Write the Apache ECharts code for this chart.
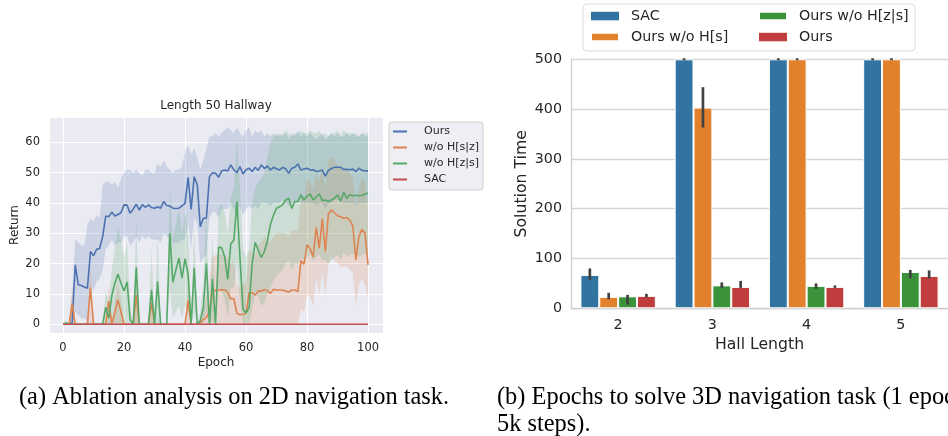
<!DOCTYPE html>
<html><head><meta charset="utf-8">
<script src="https://cdn.jsdelivr.net/npm/echarts@6/dist/echarts.min.js"></script>
<style>html,body{margin:0;padding:0;background:#fff}#c{width:948px;height:436px}</style>
</head><body><div id="c"></div>
<script>
// ---------- Left: Length 50 Hallway (epochs 0..100) ----------
const oursMean = [0,0,0,0.5,19.6,13,12.8,12.3,11.9,24,
 22.6,24.7,25,28.9,35.7,35.5,37,35.7,36.2,36.8,
 39.4,39.3,36.6,38,39.6,37.7,39.5,38.6,39.4,38.5,
 38.3,38.8,38.3,40.5,39.2,39,38.3,38.2,38.3,39.1,
 39.9,48.5,37.9,48.7,46,32.2,35,35,48.7,50,
 49.8,48.5,50.6,50.9,50.6,52.6,51,50,52,49.6,
 51,51.5,50.4,51.8,50.8,52.6,51.4,52.2,50.9,51.8,
 51.3,50.9,51.8,51.3,49.8,51.5,51.8,52.9,50.9,51.2,
 51.5,50.9,51,50.4,50.6,50.9,48.9,50.8,51.4,51.8,
 51.8,51.8,51.1,51.1,51,51.2,50.4,51.5,50.8,50.6,
 50.6];
const oursHi = [0,0,0,10,28,27,26,26,33,35,
 34,36,35,46,47,47,46,47,45,48,
 50,51,51,50,51,50,49,51,51,50,
 50,53,52,54,52,51,50,51,51,52,
 57,59,56,58,55,51,54,58,62,62,
 63,62,63,64,65,64,63,65,63,62,
 64,65,62,64,63,64,62,63,62,63,
 62,63,62,63,61,63,62,64,62,63,
 62,63,62,61,62,63,61,62,63,62,
 63,62,62,63,62,63,62,62,63,62,
 62];
const oursLo = [0,0,0,0,4,3,2,2,1,13,
 11,14,15,18,25,26,28,26,27,27,
 29,29,26,27,29,27,29,28,29,28,
 28,28,27,30,29,28,27,27,27,28,
 28,34,25,35,33,20,22,23,35,37,
 37,35,38,38,38,40,38,37,39,36,
 38,39,38,39,38,40,40,40,39,40,
 40,40,41,40,39,40,40,41,40,40,
 40,40,40,39,40,40,38,40,40,41,
 41,41,40,40,40,40,39,40,40,40,
 40];
const woHszMean = [0,0,0,6.8,0,0,0,0,0,12.2,
 0,0,0,0,0,7.6,0,4,8,4,
 0,0,0,0,9.5,0,0,0,0,7.1,
 0,0,0,0,0,0,0,0,0,0,
 0,7.8,0,0,0,0.5,1.5,2.2,4.3,10.2,
 11.3,11.3,11.4,11.3,10.5,8.3,8.5,3.6,3.1,3.3,
 3.6,10.4,10.4,9.6,11,10.9,11.5,11,10.2,11.5,
 11.3,11.3,11.2,11,10.6,11.3,11.3,10.8,21,19.8,
 26.2,25,22.2,32,25,34.8,24,36.5,37.7,36.8,
 35.8,35.5,35,35.2,34.4,32.5,21.2,28.9,31.3,30,
 19.6];
const woHszHi = [0,0,0,13,0,0,0,0,0,19,
 0,0,0,0,0,13,0,8,14,8,
 0,0,0,0,17,0,0,0,0,13,
 0,0,0,0,0,0,0,0,0,0,
 0,14,0,0,0,2,5,9,15,22,
 23,23,23,23,22,20,21,13,12,13,
 14,24,24,23,26,27,29,28,27,29,
 30,30,30,30,29,31,31,31,42,41,
 48,47,44,50,47,52,45,54,55,54,
 52,52,51,51,50,48,38,45,48,47,
 38];
const woHszLo = [0,0,0,0,0,0,0,0,0,0,
 0,0,0,0,0,0,0,0,0,0,
 0,0,0,0,0,0,0,0,0,0,
 0,0,0,0,0,0,0,0,0,0,
 0,0,0,0,0,0,0,0,0,0,
 0,0,0,0,0,0,0,0,0,0,
 0,0,0,0,0,0,0,0,0,0,
 0,0,0,0,0,0,0,0,5,4,
 10,9,6,15,10,18,9,20,22,21,
 20,19,19,19,18,17,6,13,15,13,
 8];
const woHzsMean = [0,0.4,0,0,0,0,0,0,0,0,
 0,0,0,0,5.6,2,9.5,13.5,16.5,13.5,
 11,14,1.5,0,18.8,0,0,0,0,11.3,
 0,14.2,0,0,0,30,13.8,17.9,21.8,15.2,
 21.6,16.5,0,18.6,0,1.2,5.5,20.1,0,15,
 0,25.5,25.2,22.2,14.8,26.5,27.8,40.5,22,5,
 3.7,5.5,20,27,24.5,22,24,27.5,33,36,
 38.3,38.8,39.4,41,41.6,38.2,40.5,40.5,42.7,41,
 42.2,43,41,42,43,40.8,41,40.5,41,41.6,
 42.7,40.5,43.5,41.5,42.7,42.4,42.6,42.4,42.6,43,
 43.3];
const woHzsHi = [0,1.5,0,0,0,0,0,0,0,0,
 0,0,0,0,11,7,18,25,32,28,
 22,27,6,0,35,0,0,0,0,25,
 0,29,0,0,0,45,28,33,38,30,
 37,32,0,33,0,4,14,38,0,30,
 2,38,40,37,30,42,45,61,45,25,
 22,25,40,45,47,48,50,55,60,62,
 63,62,63,64,63,62,63,63,64,63,
 63,64,63,63,64,62,63,62,63,63,
 64,62,64,63,63,63,63,62,63,63,
 63];
const woHzsLo = [0,0,0,0,0,0,0,0,0,0,
 0,0,0,0,0,0,0,0,0,0,
 0,0,0,0,0,0,0,0,0,0,
 0,0,0,0,0,12,2,4,6,2,
 6,3,0,4,0,0,0,4,0,1,
 0,12,11,8,2,12,12,20,8,0,
 0,0,5,10,9,6,7,10,12,14,
 16,17,18,20,21,18,20,20,22,21,
 22,23,21,22,23,21,21,20,21,22,
 23,21,24,22,23,23,23,22,23,23,
 24];
const sacMean = [0,0,0,0,0,0,0,0,0,0,
 0,0,0,0,0,0,0,0,0,0,
 0,0,0,0,0,0,0,0,0,0,
 0,0,0,0,0,0,0,0,0,0,
 0,0,0,0,0,0,0,0,0,0,
 0,0,0,0,0,0,0,0,0,0,
 0,0,0,0,0,0,0,0,0,0,
 0,0,0,0,0,0,0,0,0,0,
 0,0,0,0,0,0,0,0,0,0,
 0,0,0,0,0,0,0,0,0,0,
 0];
const lineNames = ['Ours', 'w/o H[s|z]', 'w/o H[z|s]', 'SAC'];
const lineColors = ['#4C72B0', '#DD8452', '#55A868', '#C44E52'];

// ---------- Right: Solution time ----------
const halls = ['2', '3', '4', '5'];
const barNames = ['SAC', 'Ours w/o H[s]', 'Ours w/o H[z|s]', 'Ours'];
const barColors = ['#3274A1', '#E1812C', '#3A923A', '#C03D3E'];
const sacTime = [67, 500, 500, 500];
const sacTimeLo = [57, 498, 498, 498];
const sacTimeHi = [80, 502, 502, 502];
const woHsTime = [23, 403, 500, 500];
const woHsTimeLo = [18, 363, 498, 498];
const woHsTimeHi = [31, 444, 502, 502];
const woHzsTime = [24, 46, 45, 73];
const woHzsTimeLo = [7, 41, 39, 60];
const woHzsTimeHi = [27, 52, 50, 77];
const oursTime = [25, 43, 43, 65];
const oursTimeLo = [22, 41, 41, 60];
const oursTimeHi = [29, 55, 46, 76];

const FONT = 'DejaVu Sans';
const TXT = '#262626';

function pairs(arr) { return arr.map((v, i) => [i, v]); }
function band(lo, hi, color) {
  return {
    type: 'custom', xAxisIndex: 0, yAxisIndex: 0, silent: true, z: 1,
    data: [[0, 0]],
    renderItem: function (params, api) {
      const pts = [];
      for (let i = 0; i < hi.length; i++) pts.push(api.coord([i, hi[i]]));
      for (let i = lo.length - 1; i >= 0; i--) pts.push(api.coord([i, lo[i]]));
      return { type: 'polygon', shape: { points: pts }, style: { fill: color, opacity: 0.2 } };
    }
  };
}
function lineSeries(name, data, color, z) {
  return {
    type: 'line', name: name, xAxisIndex: 0, yAxisIndex: 0, data: pairs(data),
    showSymbol: false, symbol: 'none', z: z, silent: true,
    lineStyle: { color: color, width: 1.6 }, itemStyle: { color: color }
  };
}
function barSeries(name, data, color) {
  return {
    type: 'bar', name: name, xAxisIndex: 1, yAxisIndex: 1, data: data,
    barWidth: '20%', barGap: '0%', silent: true, z: 2,
    itemStyle: { color: color, borderColor: '#ffffff', borderWidth: 1 }
  };
}
function errSeries(lo, hi, k) {
  return {
    type: 'custom', xAxisIndex: 1, yAxisIndex: 1, z: 5, silent: true, clip: false,
    data: halls.map((h, i) => [i, lo[i], hi[i]]),
    encode: { x: 0, y: [1, 2] },
    renderItem: function (params, api) {
      const i = api.value(0);
      const w = api.size([1, 0])[0];
      const a = api.coord([i, api.value(1)]);
      const b = api.coord([i, api.value(2)]);
      const off = (k - 1.5) * w * 0.2;
      return { type: 'line', shape: { x1: a[0] + off, y1: a[1], x2: b[0] + off, y2: b[1] },
        style: { stroke: '#424242', lineWidth: 2.7 } };
    }
  };
}

const chart = echarts.init(document.getElementById('c'), null, { renderer: 'canvas' });
const option = {
  animation: false,
  backgroundColor: '#ffffff',
  textStyle: { fontFamily: FONT },
  grid: [
    { left: 49, top: 117, width: 334, height: 216, show: true, backgroundColor: '#EAEAF2', borderWidth: 0 },
    { left: 571, top: 59.3, width: 380, height: 249, show: false }
  ],
  xAxis: [
    { type: 'value', gridIndex: 0, min: -4.6, max: 104.9, splitNumber: 5,
      axisLine: { show: false }, axisTick: { show: false },
      splitLine: { show: true, lineStyle: { color: '#ffffff', width: 1 } },
      axisLabel: { color: TXT, fontSize: 11.5, fontFamily: FONT, margin: 9,
        formatter: v => (Math.abs(v % 20) < 1e-6 ? String(v) : '') },
      name: 'Epoch', nameLocation: 'middle', nameGap: 24,
      nameTextStyle: { color: TXT, fontSize: 12, fontFamily: FONT } },
    { type: 'category', gridIndex: 1, data: halls,
      axisLine: { show: true, lineStyle: { color: '#CCCCCC', width: 1.25 } },
      axisTick: { show: false }, splitLine: { show: false },
      axisLabel: { color: TXT, fontSize: 14.3, fontFamily: FONT, margin: 10 },
      name: 'Hall Length', nameLocation: 'middle', nameGap: 25.5,
      nameTextStyle: { color: TXT, fontSize: 15.7, fontFamily: FONT } }
  ],
  yAxis: [
    { type: 'value', gridIndex: 0, min: -2.9, max: 68.4, splitNumber: 5,
      axisLine: { show: false }, axisTick: { show: false },
      splitLine: { show: true, lineStyle: { color: '#ffffff', width: 1 } },
      axisLabel: { color: TXT, fontSize: 11.5, fontFamily: FONT, margin: 9,
        formatter: v => (Math.abs(v % 10) < 1e-6 ? String(v) : '') },
      name: 'Return', nameLocation: 'middle', nameRotate: 90, nameGap: 28,
      nameTextStyle: { color: TXT, fontSize: 12, fontFamily: FONT } },
    { type: 'value', gridIndex: 1, min: 0, max: 500, interval: 100,
      axisLine: { show: true, lineStyle: { color: '#CCCCCC', width: 1.25 } },
      axisTick: { show: false },
      splitLine: { show: true, lineStyle: { color: '#D6D6D6', width: 1.3 } },
      axisLabel: { color: TXT, fontSize: 14.3, fontFamily: FONT, margin: 9 },
      name: 'Solution Time', nameLocation: 'middle', nameRotate: 90, nameGap: 41.5,
      nameTextStyle: { color: TXT, fontSize: 15.7, fontFamily: FONT } }
  ],
  legend: [
    { orient: 'vertical', left: 393, top: 126, padding: 0, icon: 'rect', itemWidth: 14, itemHeight: 2,
      itemGap: 5, selectedMode: false,
      textStyle: { color: TXT, fontSize: 11, fontFamily: FONT, lineHeight: 11, padding: [0, 0, 0, 12] },
      data: lineNames.map((n, i) => ({ name: n, itemStyle: { color: lineColors[i] } })) },
    { orient: 'vertical', left: 590, top: 8.9, padding: 0, icon: 'rect', itemWidth: 28, itemHeight: 8.5,
      itemGap: 6.7, selectedMode: false,
      textStyle: { color: TXT, fontSize: 14.3, fontFamily: FONT, lineHeight: 14.3, padding: [0, 0, 0, 7] },
      data: [0, 1].map(i => ({ name: barNames[i], itemStyle: { color: barColors[i] } })) },
    { orient: 'vertical', left: 758, top: 8.9, padding: 0, icon: 'rect', itemWidth: 28, itemHeight: 8.5,
      itemGap: 6.7, selectedMode: false,
      textStyle: { color: TXT, fontSize: 14.3, fontFamily: FONT, lineHeight: 14.3, padding: [0, 0, 0, 7] },
      data: [2, 3].map(i => ({ name: barNames[i], itemStyle: { color: barColors[i] } })) }
  ],
  graphic: [
    { type: 'rect', z: -1, shape: { x: 389, y: 122, width: 94, height: 68, r: 3 },
      style: { fill: 'rgba(234,234,242,0.8)', stroke: '#CCCCCC', lineWidth: 1 } },
    { type: 'rect', z: -1, shape: { x: 583, y: 4, width: 332, height: 47, r: 4 },
      style: { fill: 'rgba(255,255,255,0.8)', stroke: '#DDDDDD', lineWidth: 1 } },
    { type: 'text', x: 216, y: 106,
      style: { text: 'Length 50 Hallway', fill: TXT, font: '12px "DejaVu Sans"', textAlign: 'center', textVerticalAlign: 'middle', verticalAlign: 'middle' } },
    { type: 'text', x: 19, y: 398,
      style: { text: '(a) Ablation analysis on 2D navigation task.', fill: '#000', font: '24.4px "Liberation Serif"', textAlign: 'left', textVerticalAlign: 'middle', verticalAlign: 'middle' } },
    { type: 'text', x: 497, y: 398,
      style: { text: '(b) Epochs to solve 3D navigation task (1 epoch =', fill: '#000', font: '24.4px "Liberation Serif"', textAlign: 'left', textVerticalAlign: 'middle', verticalAlign: 'middle' } },
    { type: 'text', x: 497, y: 425,
      style: { text: '5k steps).', fill: '#000', font: '24.4px "Liberation Serif"', textAlign: 'left', textVerticalAlign: 'middle', verticalAlign: 'middle' } }
  ],
  series: [
    band(oursLo, oursHi, lineColors[0]),
    band(woHszLo, woHszHi, lineColors[1]),
    band(woHzsLo, woHzsHi, lineColors[2]),
    lineSeries(lineNames[0], oursMean, lineColors[0], 3),
    lineSeries(lineNames[1], woHszMean, lineColors[1], 4),
    lineSeries(lineNames[2], woHzsMean, lineColors[2], 5),
    lineSeries(lineNames[3], sacMean, lineColors[3], 6),
    barSeries(barNames[0] + ' ', sacTime, barColors[0]),
    barSeries(barNames[1], woHsTime, barColors[1]),
    barSeries(barNames[2], woHzsTime, barColors[2]),
    barSeries(barNames[3] + ' ', oursTime, barColors[3]),
    errSeries(sacTimeLo, sacTimeHi, 0),
    errSeries(woHsTimeLo, woHsTimeHi, 1),
    errSeries(woHzsTimeLo, woHzsTimeHi, 2),
    errSeries(oursTimeLo, oursTimeHi, 3)
  ]
};
chart.setOption(option);
</script></body></html>
